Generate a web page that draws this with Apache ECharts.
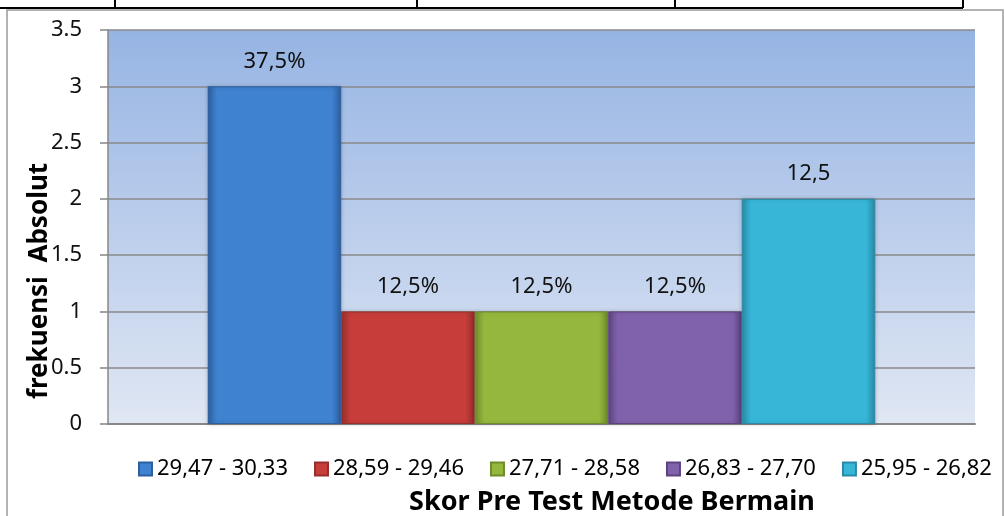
<!DOCTYPE html>
<html>
<head>
<meta charset="utf-8">
<script src="https://cdn.jsdelivr.net/npm/echarts@6/dist/echarts.min.js"></script>
<style>
  html, body { margin: 0; padding: 0; background: #fff; }
  #chart { width: 1005px; height: 516px; }
</style>
</head>
<body>
<div id="chart"></div>
<script>
  // data
  var categories = [''];
  var seriesNames = ['29,47 - 30,33', '28,59 - 29,46', '27,71 - 28,58', '26,83 - 27,70', '25,95 - 26,82'];
  var seriesValues = [3, 1, 1, 1, 2];
  var barLabels = ['37,5%', '12,5%', '12,5%', '12,5%', '12,5'];
  var yTicks = { min: 0, max: 3.5, interval: 0.5 };

  // colours: [edge, middle]
  var barColors = [
    ['#2d5f9f', '#3f82d0'],
    ['#962f2c', '#c63d3a'],
    ['#6f8c2b', '#95b73d'],
    ['#5d4480', '#8061ab'],
    ['#2a8aa7', '#37b6d8']
  ];

  var font = '"Noto Sans", "Open Sans", sans-serif';
  var axisGray = '#878787';

  var myChart = echarts.init(document.getElementById('chart'));

  var series = seriesNames.map(function (name, i) {
    var c = barColors[i];
    return {
      name: name,
      type: 'bar',
      barGap: '0%',
      barCategoryGap: '23%',
      data: [seriesValues[i]],
      itemStyle: {
        color: {
          type: 'linear', x: 0, y: 0, x2: 1, y2: 0,
          colorStops: [
            { offset: 0, color: c[0] },
            { offset: 0.07, color: c[1] },
            { offset: 0.5, color: c[1] },
            { offset: 0.93, color: c[1] },
            { offset: 1, color: c[0] }
          ]
        },
        borderColor: c[0],
        borderWidth: 1,
        shadowColor: 'rgba(0,0,0,0.18)',
        shadowBlur: 4
      },
      label: {
        show: true,
        position: 'top',
        distance: 14,
        formatter: barLabels[i],
        fontFamily: font,
        fontSize: 22,
        color: '#111'
      }
    };
  });

  myChart.setOption({
    animation: false,
    backgroundColor: '#fff',
    grid: {
      left: 108,
      right: 30,
      top: 30,
      bottom: 92,
      show: true,
      borderWidth: 0,
      backgroundColor: {
        type: 'linear', x: 0, y: 0, x2: 0, y2: 1,
        colorStops: [
          { offset: 0, color: '#96b4e3' },
          { offset: 1, color: '#e0e7f4' }
        ]
      }
    },
    legend: {
      left: 138,
      top: 458,
      width: 867,
      padding: 0,
      itemWidth: 13,
      itemHeight: 13,
      itemGap: 26,
      icon: 'rect',
      data: seriesNames,
      textStyle: { fontFamily: font, fontSize: 22, color: '#000' }
    },
    xAxis: {
      type: 'category',
      data: categories,
      axisTick: { show: false },
      axisLabel: { show: false },
      axisLine: { lineStyle: { color: axisGray, width: 2 } }
    },
    yAxis: {
      type: 'value',
      min: yTicks.min,
      max: yTicks.max,
      interval: yTicks.interval,
      axisLine: { show: true, lineStyle: { color: axisGray, width: 1.5 } },
      axisTick: { show: true, length: 8, lineStyle: { color: axisGray, width: 1.5 } },
      axisLabel: { margin: 26, fontFamily: font, fontSize: 22, color: '#111' },
      splitLine: { lineStyle: { color: '#8a8a8a', width: 1.5 } }
    },
    series: series,
    graphic: [
      // outer chart frame
      { type: 'rect', shape: { x: 7, y: 10, width: 996, height: 520 },
        style: { fill: null, stroke: '#9a9a9a', lineWidth: 1.5 }, z: -1 },
      // table lines above the chart
      { type: 'line', shape: { x1: 0, y1: 8, x2: 963, y2: 8 }, style: { stroke: '#000', lineWidth: 2 } },
      { type: 'line', shape: { x1: 115, y1: 0, x2: 115, y2: 8 }, style: { stroke: '#000', lineWidth: 2 } },
      { type: 'line', shape: { x1: 417, y1: 0, x2: 417, y2: 8 }, style: { stroke: '#000', lineWidth: 2 } },
      { type: 'line', shape: { x1: 675, y1: 0, x2: 675, y2: 8 }, style: { stroke: '#000', lineWidth: 2 } },
      { type: 'line', shape: { x1: 963, y1: 0, x2: 963, y2: 8 }, style: { stroke: '#000', lineWidth: 2 } },
      // axis titles
      { type: 'text', x: 40, y: 281, rotation: Math.PI / 2,
        style: { text: 'frekuensi  Absolut', fontFamily: font, fontWeight: 'bold', fontSize: 26,
                 fill: '#000', align: 'center', verticalAlign: 'middle' }, z: 10 },
      { type: 'text', x: 612, y: 502,
        style: { text: 'Skor Pre Test Metode Bermain', fontFamily: font, fontWeight: 'bold', fontSize: 27,
                 fill: '#000', align: 'center', verticalAlign: 'middle' }, z: 10 }
    ]
  });
</script>
</body>
</html>
